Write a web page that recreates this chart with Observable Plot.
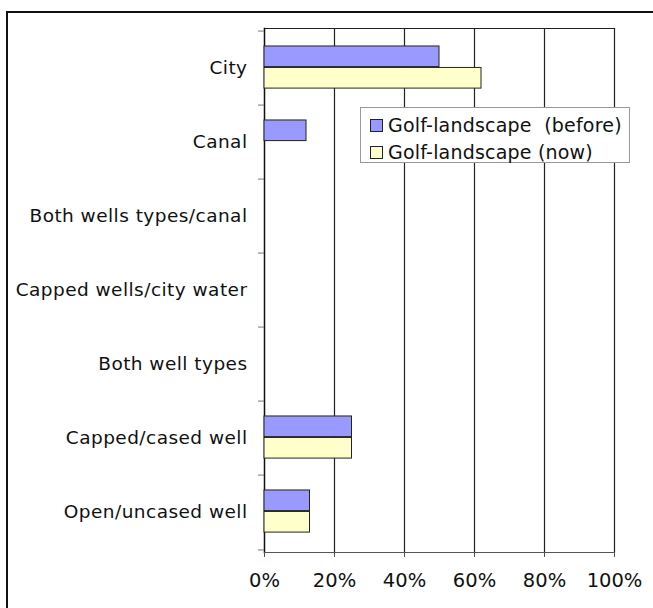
<!DOCTYPE html>
<html>
<head>
<meta charset="utf-8">
<script src="https://cdn.jsdelivr.net/npm/d3@7"></script>
<script src="https://cdn.jsdelivr.net/npm/@observablehq/plot@0.6"></script>
<style>
  html, body { margin: 0; padding: 0; background: #fff; overflow: hidden; }
  #wrap { position: relative; width: 653px; height: 608px; }
  #frame { position: absolute; left: 6px; top: 11px; width: 700px; height: 700px; border: 2px solid #111; box-sizing: border-box; }
  #chart { position: absolute; left: 0; top: 0; }
  #legend { position: absolute; left: 360px; top: 107px; width: 270px; height: 56px; box-sizing: border-box;
            border: 1px solid #999; background: #fff; font-family: "DejaVu Sans", sans-serif; font-size: 19px; letter-spacing: 0.2px; color: #111; }
  .item { position: absolute; left: 9px; display: flex; align-items: center; white-space: pre; line-height: 22px; }
  .sw { width: 11px; height: 11px; border: 1px solid #222; margin-right: 5px; }
  .ylab text { letter-spacing: 0.45px; }
</style>
</head>
<body>
<div id="wrap">
  <div id="frame"></div>
  <div id="chart"></div>
  <div id="legend"></div>
</div>
<script>
const categories = ["City", "Canal", "Both wells types/canal", "Capped wells/city water", "Both well types", "Capped/cased well", "Open/uncased well"];
const seriesNames = ["Golf-landscape  (before)", "Golf-landscape (now)"];
const seriesColors = ["#9999FF", "#FFFFCC"];
const before = [0.50, 0.12, 0, 0, 0, 0.25, 0.13];
const now = [0.62, 0, 0, 0, 0, 0.25, 0.13];
const xTicks = [0, 0.2, 0.4, 0.6, 0.8, 1.0];

const W = 653, H = 608, mt = 28, mb = 56, ml = 264, mr = 39;
const step = (H - mt - mb) / categories.length;
const barH = step * 0.287;
const offTop = step * 0.2;

const rows = [];
categories.forEach((c, i) => {
  rows.push({category: c, series: 0, value: before[i]});
  rows.push({category: c, series: 1, value: now[i]});
});
const nonzero = rows.filter(d => d.value > 0);
const rowsB = nonzero.filter(d => d.series === 0);
const rowsN = nonzero.filter(d => d.series === 1);

const chart = Plot.plot({
  width: W, height: H,
  marginTop: mt, marginBottom: mb, marginLeft: ml, marginRight: mr,
  style: {fontFamily: "DejaVu Sans, sans-serif", background: "transparent", color: "#111", overflow: "visible"},
  x: {domain: [0, 1]},
  y: {domain: categories, padding: 0},
  marks: [
    Plot.ruleX(xTicks.slice(1), {stroke: "#222", strokeWidth: 1.2}),
    Plot.frame({anchor: "top", stroke: "#222", strokeWidth: 1.2}),
    Plot.frame({anchor: "left", stroke: "#111", strokeWidth: 1.5}),
    Plot.frame({anchor: "bottom", stroke: "#555", strokeWidth: 1.2}),
    Plot.barX(rowsB, {y: "category", x: "value", fill: seriesColors[0], stroke: "#222", strokeWidth: 1,
      insetTop: offTop, insetBottom: step - offTop - barH}),
    Plot.barX(rowsN, {y: "category", x: "value", fill: seriesColors[1], stroke: "#222", strokeWidth: 1,
      insetTop: offTop + barH, insetBottom: step - offTop - 2 * barH}),
    Plot.axisY({tickSize: 0, tickPadding: 17, fontSize: 18.5, label: null, className: "ylab"}),
    Plot.axisY({text: null, tickSize: 6, dy: -step / 2, stroke: "#777", label: null}),
    Plot.axisY({ticks: [categories[categories.length - 1]], text: null, tickSize: 6, dy: step / 2, stroke: "#777", label: null}),
    Plot.axisX({ticks: xTicks, tickFormat: d3.format(".0%"), tickSize: 5, tickPadding: 16, fontSize: 19.5, label: null, stroke: "#555"})
  ]
});
document.getElementById("chart").appendChild(chart);

const legend = document.getElementById("legend");
seriesNames.forEach((name, i) => {
  const it = document.createElement("div");
  it.className = "item";
  it.style.top = (i === 0 ? 6 : 33) + "px";
  const sw = document.createElement("div");
  sw.className = "sw";
  sw.style.background = seriesColors[i];
  const tx = document.createElement("span");
  tx.textContent = name;
  it.appendChild(sw);
  it.appendChild(tx);
  legend.appendChild(it);
});
</script>
</body>
</html>
